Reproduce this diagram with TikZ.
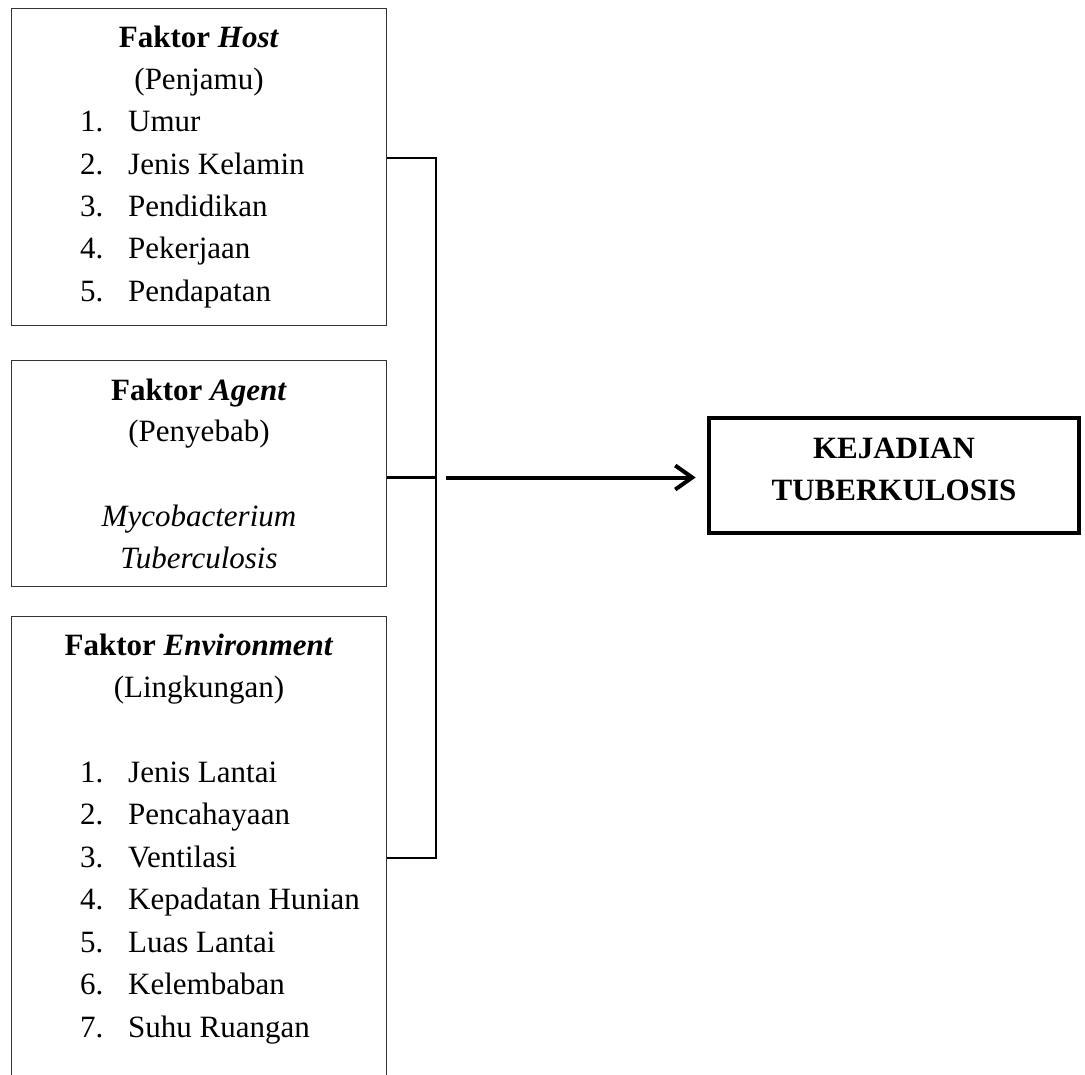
\documentclass[tikz,border=0pt]{standalone}
\usepackage{fontspec}
\setmainfont{Liberation Serif}
\usetikzlibrary{arrows.meta}
\begin{document}
\begin{tikzpicture}[x=1pt,y=-1pt,
  txt/.style={inner sep=0pt,font=\fontsize{31}{42}\selectfont},
  fbox/.style={draw=black!80,line width=1pt,minimum width=375pt,inner sep=0pt},
  conn/.style={line width=2.6pt},
  arr/.style={line width=4pt,-{Straight Barb[length=17pt,width=24pt,line width=4pt]}},
  outbox/.style={draw,line width=4.6pt,minimum width=370pt,minimum height=115pt,inner sep=0pt}]
\useasboundingbox (0,0) rectangle (1085,1075);
\clip (0,0) rectangle (1085,1075);
% boxes
\node[fbox,minimum height=317pt] (host) at (199,167) {};
\node[fbox,minimum height=226pt] (agent) at (199,473.5) {};
\node[fbox,minimum height=484pt] (env) at (199,858.5) {};
\node[outbox] (out) at (894,475.5) {};
% host text
\node[txt,anchor=base] (h0) at (199,48) {\textbf{Faktor \textit{Host}}};
\node[txt,anchor=base] (h1) at (199,90) {(Penjamu)};
\foreach \n/\t [count=\i] in {1/Umur,2/Jenis Kelamin,3/Pendidikan,4/Pekerjaan,5/Pendapatan}{
  \node[txt,anchor=base west] (hn\i) at (80,{132+42.3*(\i-1)}) {\n.};
  \node[txt,anchor=base west] (ht\i) at (128,{132+42.3*(\i-1)}) {\t};
}
% agent text
\node[txt,anchor=base] (a0) at (199,400) {\textbf{Faktor \textit{Agent}}};
\node[txt,anchor=base] (a1) at (199,442) {(Penyebab)};
\node[txt,anchor=base] (a2) at (199,526) {\textit{Mycobacterium}};
\node[txt,anchor=base] (a3) at (199,568) {\textit{Tuberculosis}};
% environment text
\node[txt,anchor=base] (e0) at (199,655) {\textbf{Faktor \textit{Environment}}};
\node[txt,anchor=base] (e1) at (199,697) {(Lingkungan)};
\foreach \n/\t [count=\i] in {1/Jenis Lantai,2/Pencahayaan,3/Ventilasi,4/Kepadatan Hunian,5/Luas Lantai,6/Kelembaban,7/Suhu Ruangan}{
  \node[txt,anchor=base west] (en\i) at (80,{782+42.5*(\i-1)}) {\n.};
  \node[txt,anchor=base west] (et\i) at (128,{782+42.5*(\i-1)}) {\t};
}
% output text
\node[txt,anchor=base] (o1) at (894,458) {\textbf{KEJADIAN}};
\node[txt,anchor=base] (o2) at (894,500) {\textbf{TUBERKULOSIS}};
% connectors
\coordinate (c1) at (436,158);
\coordinate (c2) at (436,477.5);
\coordinate (c3) at (436,858);
\draw[conn] (c1 -| host.east) -- (c1) -- (c3) -- (c3 -| env.east);
\draw[conn] (c2 -| agent.east) -- (c2);
\draw[arr,shorten <=10pt,shorten >=11pt] (c2) -- (c2 -| out.west);
\end{tikzpicture}
\end{document}
